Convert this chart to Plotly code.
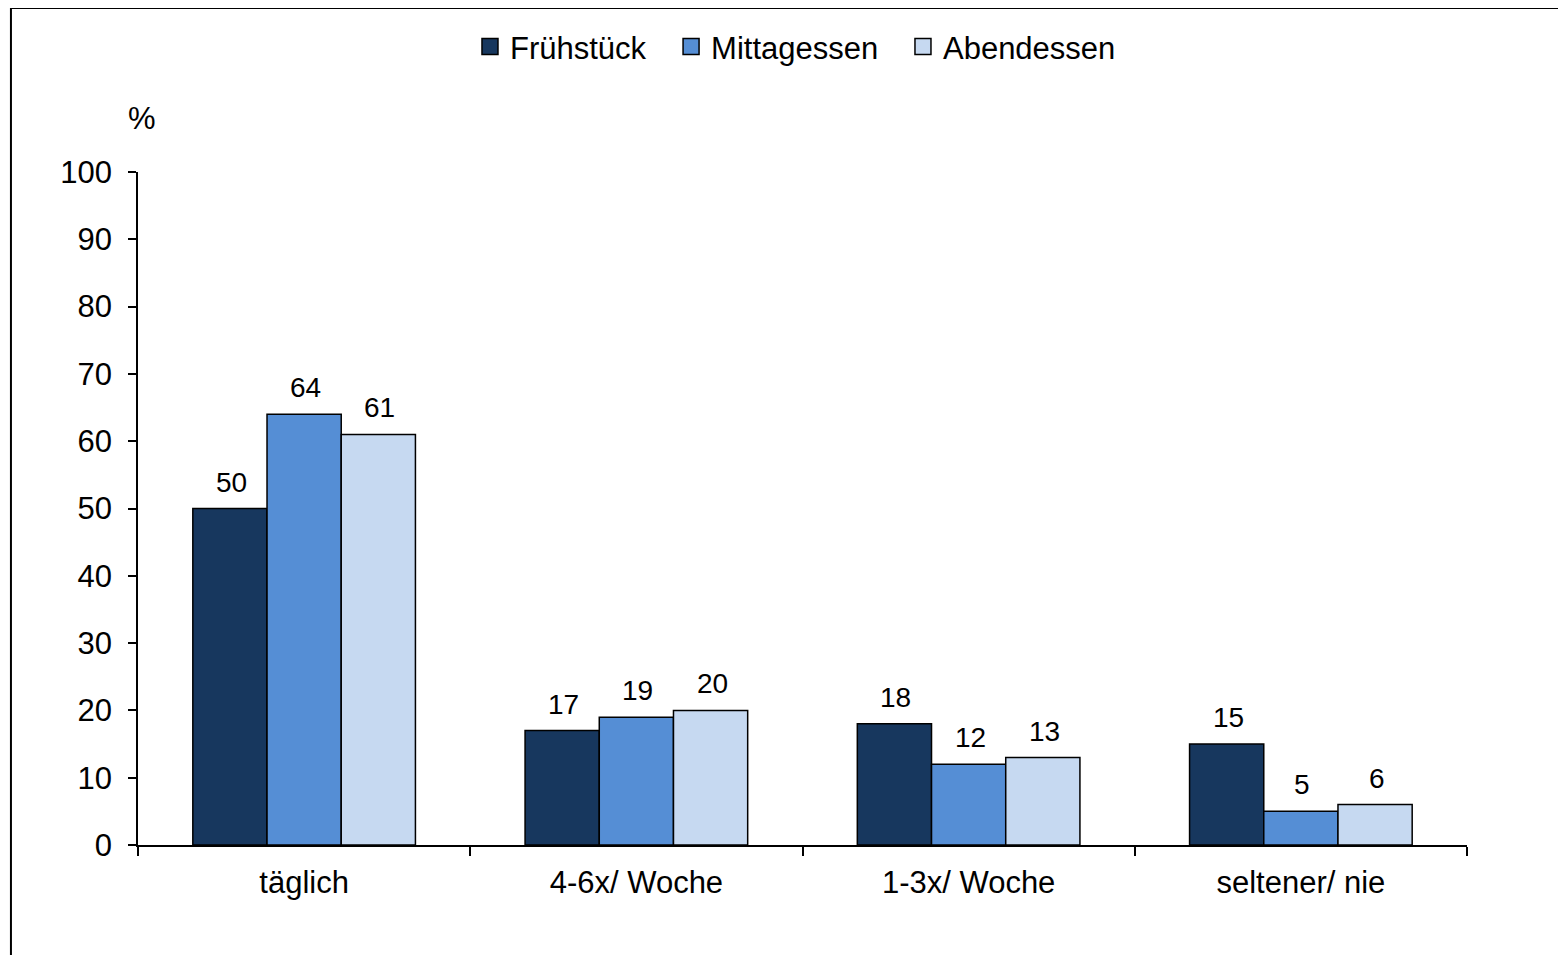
import plotly.graph_objects as go

categories = ["täglich", "4-6x/ Woche", "1-3x/ Woche", "seltener/ nie"]
series_names = ["Frühstück", "Mittagessen", "Abendessen"]
fruehstueck = [50, 17, 18, 15]
mittagessen = [64, 19, 12, 5]
abendessen = [61, 20, 13, 6]
y_ticks = [0, 10, 20, 30, 40, 50, 60, 70, 80, 90, 100]

colors = ["#17375E", "#558ED5", "#C6D9F1"]
font_family = "Liberation Sans, Arial, sans-serif"
FS = 31

fig = go.Figure()
series = [fruehstueck, mittagessen, abendessen]
for name, vals, col in zip(series_names, series, colors):
    fig.add_trace(go.Bar(
        x=categories, y=vals, name=name, showlegend=False,
        marker=dict(color=col, line=dict(color="black", width=1.5)),
    ))
# legend entries with larger square symbols, one legend each for exact spacing
legend_ids = ["legend", "legend2", "legend3"]
for name, col, lid in zip(series_names, colors, legend_ids):
    fig.add_trace(go.Scatter(
        x=[None], y=[None], mode="markers", name=name, legend=lid,
        marker=dict(symbol="square", size=16, color=col, line=dict(color="black", width=1.5)),
    ))

# data labels above bars
annotations = []
bar_px = 74.3
for i, vals in enumerate(series):
    for c, v in zip(categories, vals):
        annotations.append(dict(
            x=c, y=v, xref="x", yref="y", text=str(v), showarrow=False,
            xanchor="center", yanchor="bottom", xshift=(i - 1) * bar_px + 1.5, yshift=9,
            font=dict(size=28, color="black", family=font_family),
        ))
annotations.append(dict(text="%", xref="paper", yref="paper", x=0.003, y=1.08,
                        showarrow=False, xanchor="center", yanchor="middle",
                        font=dict(size=FS)))

legend_common = dict(orientation="h", xanchor="left", y=1.186, yanchor="middle",
                     font=dict(size=FS), itemwidth=30, itemsizing="trace",
                     bgcolor="rgba(0,0,0,0)")

fig.update_layout(
    width=1566, height=955,
    margin=dict(l=130, r=107, t=164, b=118),
    paper_bgcolor="white", plot_bgcolor="white",
    barmode="group", bargap=0.33, bargroupgap=0,
    font=dict(family=font_family, size=FS, color="black"),
    showlegend=True,
    legend=dict(x=0.2498, **legend_common),
    legend2=dict(x=0.4011, **legend_common),
    legend3=dict(x=0.5756, **legend_common),
    xaxis=dict(showline=True, linecolor="black", linewidth=1.5, ticks="outside",
               tickson="boundaries", ticklen=9, tickcolor="black", tickwidth=1.5,
               showgrid=False, tickfont=dict(size=FS), ticklabelstandoff=9),
    yaxis=dict(range=[0, 100], tickvals=y_ticks, showline=True, linecolor="black",
               linewidth=1.5, ticks="outside", ticklen=8, tickcolor="black",
               tickwidth=1.5, showgrid=False, zeroline=False, tickfont=dict(size=FS),
               ticklabelstandoff=10),
    annotations=annotations,
    shapes=[dict(type="rect", xref="paper", yref="paper", x0=-0.0956, x1=1.2,
                 y0=-0.5, y1=1.2437, line=dict(color="black", width=2))],
)

fig.write_html("out.html")
